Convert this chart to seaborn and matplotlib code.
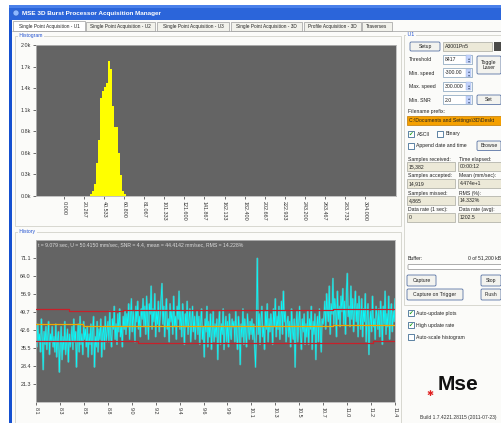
import numpy as np
import pandas as pd
import matplotlib
matplotlib.use("Agg")
import matplotlib.pyplot as plt
import seaborn as sns
from matplotlib.patches import Rectangle, FancyBboxPatch, Circle

# ---------------- data ----------------
hist_bin_start = 26.0
hist_bin_width = 2.0
hist_counts = [27, 62, 159, 442, 743, 1297, 1385, 1443, 1496, 1790,
               1681, 1186, 920, 912, 566, 279, 71, 27]
hist_xtick_labels = ["0.000", "20.267", "40.533", "60.800", "81.067", "101.333",
                     "121.600", "141.867", "162.133", "182.400", "202.667",
                     "222.933", "243.200", "263.467", "283.733", "304.000"]
hist_ytick_labels = ["0.0k", "0.3k", "0.6k", "0.8k", "1.1k", "1.4k", "1.7k", "2.0k"]

history_values = [
    43, 36, 45, 38, 41, 34, 47, 39, 27, 42, 37, 44, 35, 40, 46, 33, 41, 38, 44, 36,
    40, 34, 45, 32, 39, 42, 26, 37, 44, 31, 40, 35, 46, 33, 38, 43, 30, 41, 36, 39,
    44, 35, 47, 38, 42, 28, 40, 45, 34, 48, 37, 41, 33, 46, 39, 43, 36, 44, 32, 41,
    37, 45, 33, 42, 48, 28, 40, 36, 46, 34, 43, 39, 47, 32, 41, 44, 35, 48, 38, 42,
    46, 38, 50, 41, 36, 47, 43, 52, 39, 45, 37, 49, 42, 51, 40, 44, 36, 48, 43, 50,
    41, 49, 44, 53, 39, 47, 55, 42, 50, 45, 38, 52, 46, 54, 43, 48, 40, 51, 47, 55,
    44, 52, 41, 56, 47, 39, 53, 49, 60, 43, 51, 46, 57, 40, 50, 45, 54, 42, 48, 55,
    61, 45, 52, 40, 49, 55, 43, 47, 38, 53, 46, 50, 41, 56, 44, 48, 39, 52, 47, 58,
    43, 50, 40, 53, 46, 37, 49, 44, 54, 41, 47, 51, 38, 45, 52, 42, 48, 39, 46, 50,
    41, 48, 37, 45, 51, 39, 44, 32, 47, 42, 52, 36, 46, 40, 49, 35, 43, 50, 38, 45,
    40, 47, 31, 44, 50, 37, 45, 41, 51, 35, 43, 48, 38, 46, 36, 49, 42, 39, 47, 44,
    46, 38, 50, 41, 35, 48, 43, 29, 45, 40, 51, 37, 47, 42, 36, 49, 44, 39, 46, 41,
    47, 39, 45, 36, 28, 43, 71, 41, 49, 37, 46, 52, 40, 44, 35, 50, 43, 53, 38, 47,
    42, 49, 45, 37, 51, 44, 55, 40, 48, 43, 52, 39, 47, 54, 41, 58, 46, 50, 38, 45,
    48, 40, 46, 36, 51, 43, 39, 47, 28, 44, 50, 38, 45, 52, 41, 35, 47, 42, 49, 37,
    45, 40, 50, 37, 47, 43, 52, 35, 46, 41, 49, 31, 44, 48, 38, 51, 42, 34, 47, 45,
    48, 54, 43, 57, 50, 46, 60, 41, 53, 49, 63, 45, 55, 51, 40, 58, 47, 52, 44, 56,
    50, 59, 45, 54, 41, 57, 65, 48, 52, 44, 60, 47, 55, 42, 51, 58, 46, 53, 40, 56,
    49, 43, 55, 40, 51, 46, 57, 38, 48, 53, 33, 45, 50, 42, 56, 44, 47, 39, 52, 48,
    43, 51, 40, 54, 47, 37, 52, 45, 58, 41, 49, 44, 56, 39, 48, 53, 42, 50, 46, 55,
]
history_t_start = 8.1
history_t_end = 11.4
history_xtick_labels = ["8.1", "8.3", "8.5", "8.8", "9.0", "9.2", "9.4", "9.6",
                        "9.9", "10.1", "10.3", "10.5", "10.7", "11.0", "11.2", "11.4"]
history_ytick_values = [21.3, 28.4, 35.5, 42.6, 49.7, 56.9, 64.0, 71.1]

mean_t = [8.1, 8.53, 9.21, 10.83, 11.4]
mean_v = [44.9, 44.15, 44.4, 44.7, 44.7]
upper_t = [8.1, 8.40, 8.90, 10.83, 11.4]
upper_v = [50.87, 50.35, 50.6, 50.87, 50.87]
lower_t = [8.1, 9.04, 11.2, 11.4]
lower_v = [38.2, 37.7, 38.2, 38.2]

status_text = ("t = 9.079 sec, U = 50.4150 mm/sec, SNR = 4.4, "
               "mean = 44.4142 mm/sec, RMS = 14.228%")

tab_names = ["Single Point Acquisition - U1", "Single Point Acquisition - U2",
             "Single Point Acquisition - U3", "Single Point Acquisition - 3D",
             "Profile Acquisition - 3D", "Traverses"]

# ---------------- figure ----------------
sns.set_style("ticks")
plt.rcParams['font.family'] = ['Liberation Sans', 'DejaVu Sans']

W, H = 502, 423
fig = plt.figure(figsize=(W / 100, H / 100), dpi=100)
fig.patch.set_facecolor("white")


def fx(x):
    return x / W


def fy(y):
    return 1 - y / H


g = fig.add_axes([0, 0, 1, 1], zorder=0)
g.set_xlim(0, W)
g.set_ylim(H, 0)
g.axis("off")


def rect(x, y, w, h, fc="none", ec="none", lw=0.5, z=1, r=0):
    if r > 0:
        p = FancyBboxPatch((x, y), w, h, boxstyle=f"round,pad=0,rounding_size={r}",
                           fc=fc, ec=ec, lw=lw, zorder=z)
    else:
        p = Rectangle((x, y), w, h, fc=fc, ec=ec, lw=lw, zorder=z)
    g.add_patch(p)
    return p


def txt(x, y, s, size=3.8, color="#222222", ha="left", va="center", **kw):
    g.text(x, y, s, fontsize=size, color=color, ha=ha, va=va, zorder=5, **kw)


# window frame
rect(9, 5, 493, 418, fc="#FBFBF9", z=0.5)
rect(9, 5, 3, 418, fc="#1550D0", z=1)
rect(9, 5, 493, 15, fc="#2B65DA", z=1)
rect(9, 5, 493, 3, fc="#4A80EA", z=1)
g.add_patch(Circle((16, 13), 3, fc="#8DB8FF", ec="#3060C0", lw=0.4, zorder=2))
txt(22, 13.2, "MSE 3D Burst Processor Acquisition Manager", size=4.6,
    color="white", fontweight="bold")

# tabs
tab_x = [(13, 85), (86, 155), (157, 229), (231, 302), (304, 361), (362, 392)]
g.plot([12, 502], [31, 31], color="#9C9C9C", lw=0.5, zorder=1)
for i, (name, (a, b)) in enumerate(zip(tab_names, tab_x)):
    fc = "white" if i == 0 else "#F2F2EC"
    top = 21 if i == 0 else 22.5
    rect(a, top, b - a, 31.5 - top, fc=fc, ec="#9C9C9C", lw=0.5, z=2)
    txt((a + b) / 2, 26.6, name, size=3.4, ha="center")

# group boxes
rect(15, 36, 386, 190, ec="#D2D2CA", lw=0.6, z=1)
txt(18, 36, " Histogram ", size=3.6, color="#2050D0",
    bbox=dict(fc="#FBFBF9", ec="none", pad=0.2))
rect(15, 232, 386, 200, ec="#D2D2CA", lw=0.6, z=1)
txt(18, 232, " History ", size=3.6, color="#2050D0",
    bbox=dict(fc="#FBFBF9", ec="none", pad=0.2))
rect(404, 35, 110, 270, ec="#D2D2CA", lw=0.6, z=1)
txt(406, 35, " U1 ", size=3.8, color="#2050D0",
    bbox=dict(fc="#FBFBF9", ec="none", pad=0.2))


def button(x, y, w, h, label):
    rect(x, y, w, h, fc="#F3F3EF", ec="#3A5A96", lw=0.5, z=2, r=1.2)
    txt(x + w / 2, y + h / 2, label, size=3.7, ha="center", linespacing=1.0)


def field(x, y, w, h, label, fc="#ECE9D8"):
    rect(x, y, w, h, fc=fc, ec="#A8A8A0", lw=0.5, z=2)
    txt(x + 1.5, y + h / 2, label, size=3.7)


def spin(x, y, w, h, label):
    rect(x, y, w, h, fc="white", ec="#7F9DB9", lw=0.5, z=2)
    rect(x + w - 6, y + 0.5, 5.5, h - 1, fc="#C3D3FD", ec="#9EB3E0", lw=0.3, z=3)
    txt(x + w - 3.2, y + h * 0.3, "\u25B4", size=3.0, ha="center", color="#4D6185",
        family=["DejaVu Sans"])
    txt(x + w - 3.2, y + h * 0.72, "\u25BE", size=3.0, ha="center", color="#4D6185",
        family=["DejaVu Sans"])
    txt(x + 1.5, y + h / 2, label, size=3.7)


def check(x, y, label, checked):
    rect(x, y - 3, 6, 6, fc="white", ec="#1C5180", lw=0.5, z=2)
    if checked:
        txt(x + 3, y + 0.2, "\u2714", size=4.0, ha="center", color="#21A121",
            family=["DejaVu Sans"])
    txt(x + 8.5, y, label, size=3.7)


button(410, 42, 30, 9, "Setup")
field(443, 42, 49, 9, "A3001Pn5")
rect(494, 42, 8, 9, fc="#4A4A48", z=2)

txt(409, 59.5, "Threshold", size=3.7)
spin(443, 55, 29, 9, "8417")
txt(409, 73, "Min. speed", size=3.7)
spin(443, 68.5, 29, 9, "-300.00")
txt(409, 86.5, "Max. speed", size=3.7)
spin(443, 82, 29, 9, "300.000")
txt(409, 100, "Min. SNR", size=3.7)
spin(443, 95.5, 29, 9, "2.0")
button(477, 56, 24, 18, "Toggle\nLaser")
button(477, 95, 24, 9.5, "Set")

txt(408, 112, "Filename prefix:", size=3.7)
rect(407, 116, 95, 9.5, fc="#F5A000", ec="#C07800", lw=0.5, z=2)
txt(409, 120.8, "C:\\Documents and Settings\\3D\\Deskt", size=3.7, color="#222222")

check(408, 134, "ASCII", True)
check(437, 134, "Binary", False)
check(408, 146, "Append date and time", False)
button(477, 141, 24, 9.5, "Browse")

labels_left = ["Samples received:", "Samples accepted:", "Samples missed:",
               "Data rate (1 sec):"]
labels_right = ["Time elapsed:", "Mean (mm/sec):", "RMS (%):", "Data rate (avg):"]
vals_left = ["15,382", "14,919", "4,865", "0"]
vals_right = ["00:00:12", "4.474e+1", "14.332%", "1202.5"]
for k in range(4):
    y0 = 159 + k * 17
    txt(408, y0, labels_left[k], size=3.7)
    txt(459, y0, labels_right[k], size=3.7)
    field(407, y0 + 3.5, 48, 8.5, vals_left[k])
    field(458, y0 + 3.5, 44, 8.5, vals_right[k])

txt(408, 258, "Buffer:", size=3.7)
txt(501, 258, "0 of 51,200 kB", size=3.7, ha="right")
rect(408, 264.5, 96, 5, fc="white", ec="#8C8C8C", lw=0.5, z=2, r=1)
button(407, 275, 29, 11, "Capture")
button(481, 275, 20, 11, "Stop")
button(407, 289, 56, 11, "Capture on Trigger")
button(481, 289, 20, 11, "Flush")

check(408, 313, "Auto-update plots", True)
check(408, 325, "High update rate", True)
check(408, 337, "Auto-scale histogram", False)

# logo
txt(458, 384, "Mse", size=15, ha="center", color="#111111", fontweight="bold")
txt(430, 394, "\u2731", size=6, ha="center", color="#E02020",
    family=["DejaVu Sans"])
txt(458, 417, "Build 1.7.4221.28115 (2011-07-23)", size=3.6, ha="center",
    color="#333333")

# ---------------- histogram ----------------
axc = "#646464"
edges = [hist_bin_start + i * hist_bin_width for i in range(len(hist_counts) + 1)]
centers = [e + hist_bin_width / 2 for e in edges[:-1]]
hdf = pd.DataFrame({"speed": centers, "count": hist_counts})

ax1 = fig.add_axes([fx(36), fy(196), fx(396) - fx(36), fy(45) - fy(196)], zorder=2)
ax1.set_facecolor(axc)
sns.histplot(data=hdf, x="speed", weights="count", bins=edges, element="step",
             fill=True, color="#FFFF00", alpha=1.0, linewidth=0, ax=ax1)
ax1.set_xlim(-28.5, 335.5)
ax1.set_ylim(0, 2000)
ax1.set_xticks([float(s) for s in hist_xtick_labels])
ax1.set_xticklabels(hist_xtick_labels, rotation=270, ha="center", va="top")
ax1.set_yticks([2000 * i / 7 for i in range(8)])
ax1.set_yticklabels(hist_ytick_labels)
ax1.set_xlabel("")
ax1.set_ylabel("")
ax1.tick_params(axis="both", labelsize=3.9, length=2.5, width=0.5, pad=1.2,
                colors="#333333", direction="out")
for s in ax1.spines.values():
    s.set_color("#B8B8B8")
    s.set_linewidth(0.6)

# ---------------- history ----------------
n = len(history_values)
t = np.linspace(history_t_start, history_t_end, n)
df = pd.DataFrame({"t": t, "U": history_values})

ax2 = fig.add_axes([fx(36), fy(402), fx(395) - fx(36), fy(240) - fy(402)], zorder=2)
ax2.set_facecolor(axc)
sns.lineplot(data=df, x="t", y="U", color="#5FD0D0", lw=1.3, alpha=0.5,
             estimator=None, ax=ax2)
sns.lineplot(data=df, x="t", y="U", color="#00FFFF", lw=0.5,
             estimator=None, ax=ax2)
for tt, vv, col, lw in [(upper_t, upper_v, "#C8202A", 0.9),
                        (lower_t, lower_v, "#C8202A", 0.9),
                        (mean_t, mean_v, "#F0A800", 0.9)]:
    sns.lineplot(x=tt, y=vv, color=col, lw=lw, drawstyle="steps-post",
                 estimator=None, ax=ax2, zorder=5)
ax2.set_xlim(history_t_start, history_t_end)
ax2.set_ylim(14.22, 78.22)
ax2.set_xticks(np.linspace(history_t_start, history_t_end, len(history_xtick_labels)))
ax2.set_xticklabels(history_xtick_labels, rotation=270, ha="center", va="top")
ax2.set_yticks(history_ytick_values)
ax2.set_yticklabels([f"{v:.1f}" for v in history_ytick_values])
ax2.set_xlabel("")
ax2.set_ylabel("")
ax2.tick_params(axis="both", labelsize=3.9, length=2.5, width=0.5, pad=1.2,
                colors="#333333", direction="out")
for s in ax2.spines.values():
    s.set_color("#B8B8B8")
    s.set_linewidth(0.6)
ax2.text(0.006, 0.985, status_text, transform=ax2.transAxes, va="top", ha="left",
         fontsize=3.7, color="#DCDCDC")

fig.savefig("out.png", dpi=100, facecolor=fig.get_facecolor())
